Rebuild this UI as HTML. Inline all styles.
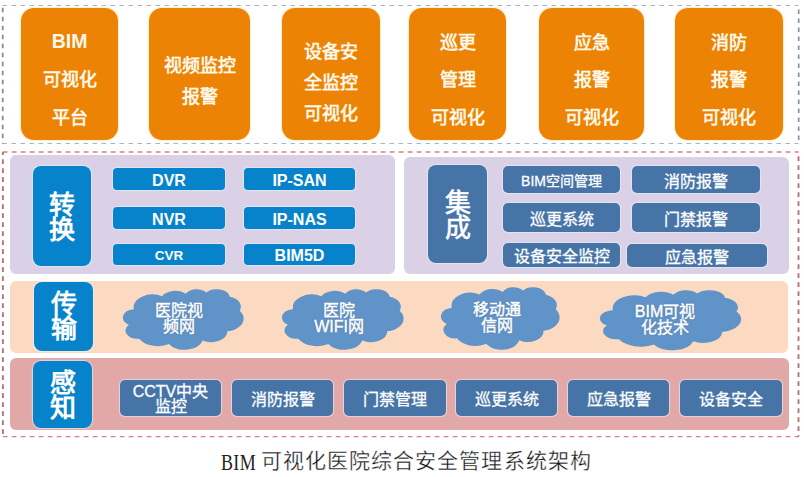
<!DOCTYPE html>
<html lang="zh-CN"><head><meta charset="utf-8">
<style>
*{margin:0;padding:0;box-sizing:border-box}
html,body{width:804px;height:477px;overflow:hidden;background:#fff}
body{position:relative;font-family:"Liberation Sans",sans-serif}
.a{position:absolute}
.ob{position:absolute;top:8.3px;height:131.3px;background:#EC8304;border-radius:13px;color:#FFF8E8;font-weight:bold;font-size:18px;line-height:37.5px;padding-top:16.5px;text-align:center}
.ob div{white-space:nowrap}
.ob{box-shadow:0 0 1px 1px rgba(255,236,196,.8)}
.bb,.sb,.lb{box-shadow:0 0 1px 0.8px rgba(235,245,255,.55)}
.panel{position:absolute;border-radius:6px}
.bb{position:absolute;background:#0783CC;border-radius:4px;color:#fff;font-weight:bold;font-size:16px;text-align:center;display:flex;align-items:center;justify-content:center;padding-top:3px}
.lb{position:absolute;background:#0783CC;border-radius:8px;color:#fff;font-size:26px;font-weight:bold;line-height:25px;text-align:center;display:flex;flex-direction:column;align-items:center;justify-content:center}
.sb{position:absolute;background:#4774A6;border-radius:5px;color:#fff;font-size:16px;-webkit-text-stroke:0.3px #fff;text-align:center;display:flex;align-items:center;justify-content:center}
.cl{position:absolute}
.cl svg{position:absolute;left:0;top:0;width:100%;height:100%;overflow:visible}
.cl div{position:absolute;left:0;top:0;width:100%;height:100%;display:flex;flex-direction:column;align-items:center;justify-content:center;color:#fff;font-size:16px;line-height:16px;-webkit-text-stroke:0.45px #fff;text-shadow:0 0 1.5px rgba(40,60,90,.7)}
</style></head><body>
<svg class="a" style="left:0;top:0" width="804" height="477">
<path d="M2.5 5.5H798.5M2.5 143.5H798.5" fill="none" stroke="#A6B4C8" stroke-width="1" stroke-dasharray="4.5 4.5"/>
<path d="M2.7 5V143.5" fill="none" stroke="#7E8898" stroke-width="1.7" stroke-dasharray="4.5 4.5" stroke-dashoffset="6.2"/>
<path d="M798.7 5V143.5" fill="none" stroke="#8494AC" stroke-width="1.7" stroke-dasharray="4.5 4.5" stroke-dashoffset="4.5"/>
<path d="M2.7 152H798.7M2.7 436.6H798.7" fill="none" stroke="#D08486" stroke-width="1.4" stroke-dasharray="4.8 4.2"/>
<path d="M2.9 152V436.6" fill="none" stroke="#B8727A" stroke-width="1.9" stroke-dasharray="4.8 4.2" stroke-dashoffset="1.8"/>
<path d="M798.5 152V436.6" fill="none" stroke="#B8727A" stroke-width="1.9" stroke-dasharray="4.8 4.2" stroke-dashoffset="4.7"/>
</svg>

<div class="ob" style="left:21px;width:97px"><div style="font-size:19.5px;position:relative;top:-1.5px">BIM</div><div>可视化</div><div>平台</div></div>
<div class="ob" style="left:149px;width:101px;line-height:31.3px;padding-top:42.3px"><div>视频监控</div><div>报警</div></div>
<div class="ob" style="left:282px;width:98px;line-height:31.2px;padding-top:28.4px"><div>设备安</div><div>全监控</div><div>可视化</div></div>
<div class="ob" style="left:409px;width:97px"><div>巡更</div><div>管理</div><div>可视化</div></div>
<div class="ob" style="left:539px;width:105px"><div>应急</div><div>报警</div><div>可视化</div></div>
<div class="ob" style="left:675px;width:108px"><div>消防</div><div>报警</div><div>可视化</div></div>

<!-- purple panels -->
<div class="panel" style="left:10px;top:155px;width:385px;height:119px;background:#DAD1E6"></div>
<div class="panel" style="left:403.5px;top:157px;width:385px;height:117px;background:#DAD1E6"></div>
<div class="lb" style="left:33px;top:166px;width:58px;height:100px;padding-top:3px"><div>转</div><div>换</div></div>
<div class="bb" style="left:113px;top:168px;width:112px;height:22px">DVR</div>
<div class="bb" style="left:244px;top:168px;width:111px;height:22px">IP-SAN</div>
<div class="bb" style="left:113px;top:207px;width:112px;height:22px">NVR</div>
<div class="bb" style="left:244px;top:207px;width:111px;height:22px">IP-NAS</div>
<div class="bb" style="left:113px;top:243.5px;width:112px;height:21px;font-size:13.5px">CVR</div>
<div class="bb" style="left:244px;top:243.5px;width:111px;height:21px">BIM5D</div>

<div class="lb" style="left:428px;top:165px;width:59px;height:98px;padding-top:3px;background:#4774A6;font-weight:normal;-webkit-text-stroke:0.6px #fff"><div>集</div><div>成</div></div>
<div class="sb" style="left:503px;top:166px;width:117px;height:27px;font-size:14px">BIM空间管理</div>
<div class="sb" style="left:632px;top:166px;width:128px;height:27px">消防报警</div>
<div class="sb" style="left:503px;top:203px;width:117px;height:29px">巡更系统</div>
<div class="sb" style="left:632px;top:203px;width:128px;height:29px">门禁报警</div>
<div class="sb" style="left:503px;top:243px;width:117px;height:24px">设备安全监控</div>
<div class="sb" style="left:627px;top:244px;width:140px;height:23px">应急报警</div>

<!-- peach panel -->
<div class="panel" style="left:10px;top:280.5px;width:778.4px;height:72px;background:#FCDAC2"></div>
<div class="lb" style="left:34px;top:282px;width:59px;height:69px"><div>传</div><div>输</div></div>
<svg width="0" height="0" style="position:absolute"><defs><path id="cp" d="M90.3 332.6A156.3 212.7 0 0 1 324.2 120.4A123.4 168.2 0 0 1 519.8 79.4A101.0 137.6 0 0 1 690.6 57.4A112.4 152.7 0 0 1 887.0 129.1A123.4 168.4 0 0 1 968.0 357.9A156.8 213.4 0 0 1 865.8 699.1A133.9 182.1 0 0 1 661.0 852.2A156.3 213.3 0 0 1 381.5 908.9A178.7 244.1 0 0 1 134.4 821.1A100.9 137.0 0 0 1 48.9 591.4A100.6 137.6 0 0 1 89.4 335.8Z"/></defs></svg>
<div class="cl" style="left:123px;top:288.5px;width:120.5px;height:60.5px"><svg viewBox="0 0 1000 1000" preserveAspectRatio="none"><use href="#cp" fill="none" stroke="#fff" stroke-opacity=".7" stroke-width="3" vector-effect="non-scaling-stroke"/><use href="#cp" fill="#6094C9" stroke="#4A78AA" stroke-width="1.1" vector-effect="non-scaling-stroke"/></svg><div style="padding-right:8px"><span>医院视</span><span>频网</span></div></div>
<div class="cl" style="left:282.4px;top:289px;width:121.5px;height:60.5px"><svg viewBox="0 0 1000 1000" preserveAspectRatio="none"><use href="#cp" fill="none" stroke="#fff" stroke-opacity=".7" stroke-width="3" vector-effect="non-scaling-stroke"/><use href="#cp" fill="#6094C9" stroke="#4A78AA" stroke-width="1.1" vector-effect="non-scaling-stroke"/></svg><div style="padding-right:8px"><span>医院</span><span>WIFI网</span></div></div>
<div class="cl" style="left:441.3px;top:286.7px;width:118.5px;height:62.5px"><svg viewBox="0 0 1000 1000" preserveAspectRatio="none"><use href="#cp" fill="none" stroke="#fff" stroke-opacity=".7" stroke-width="3" vector-effect="non-scaling-stroke"/><use href="#cp" fill="#6094C9" stroke="#4A78AA" stroke-width="1.1" vector-effect="non-scaling-stroke"/></svg><div style="padding-right:8px"><span>移动通</span><span>信网</span></div></div>
<div class="cl" style="left:600px;top:289.7px;width:141px;height:60px"><svg viewBox="0 0 1000 1000" preserveAspectRatio="none"><use href="#cp" fill="none" stroke="#fff" stroke-opacity=".7" stroke-width="3" vector-effect="non-scaling-stroke"/><use href="#cp" fill="#6094C9" stroke="#4A78AA" stroke-width="1.1" vector-effect="non-scaling-stroke"/></svg><div style="padding-right:11px"><span>BIM可视</span><span>化技术</span></div></div>

<!-- pink panel -->
<div class="panel" style="left:10px;top:358px;width:779px;height:72px;background:#E2A8A8"></div>
<div class="lb" style="left:33px;top:361px;width:59px;height:67px;padding-top:2px"><div>感</div><div>知</div></div>
<div class="sb" style="left:120px;top:380px;width:101px;height:36px;flex-direction:column;line-height:15px;padding-top:1px"><span>CCTV中央</span><span>监控</span></div>
<div class="sb" style="left:232px;top:380px;width:101px;height:36px">消防报警</div>
<div class="sb" style="left:344px;top:380px;width:102px;height:36px">门禁管理</div>
<div class="sb" style="left:456px;top:380px;width:101px;height:36px">巡更系统</div>
<div class="sb" style="left:568px;top:380px;width:101px;height:36px">应急报警</div>
<div class="sb" style="left:680px;top:380px;width:102px;height:36px">设备安全</div>

<div class="a" style="left:221px;top:449.5px;font-family:'Liberation Serif',serif;font-size:23px;line-height:26px;letter-spacing:0.5px;color:#222;white-space:nowrap;transform:scaleX(0.78);transform-origin:0 0">BIM</div>
<div class="a" style="left:261px;top:448px;font-size:21px;line-height:26px;letter-spacing:1.05px;color:#111;-webkit-text-stroke:0.35px #fff;white-space:nowrap">可视化医院综合安全管理系统架构</div>
</body></html>
